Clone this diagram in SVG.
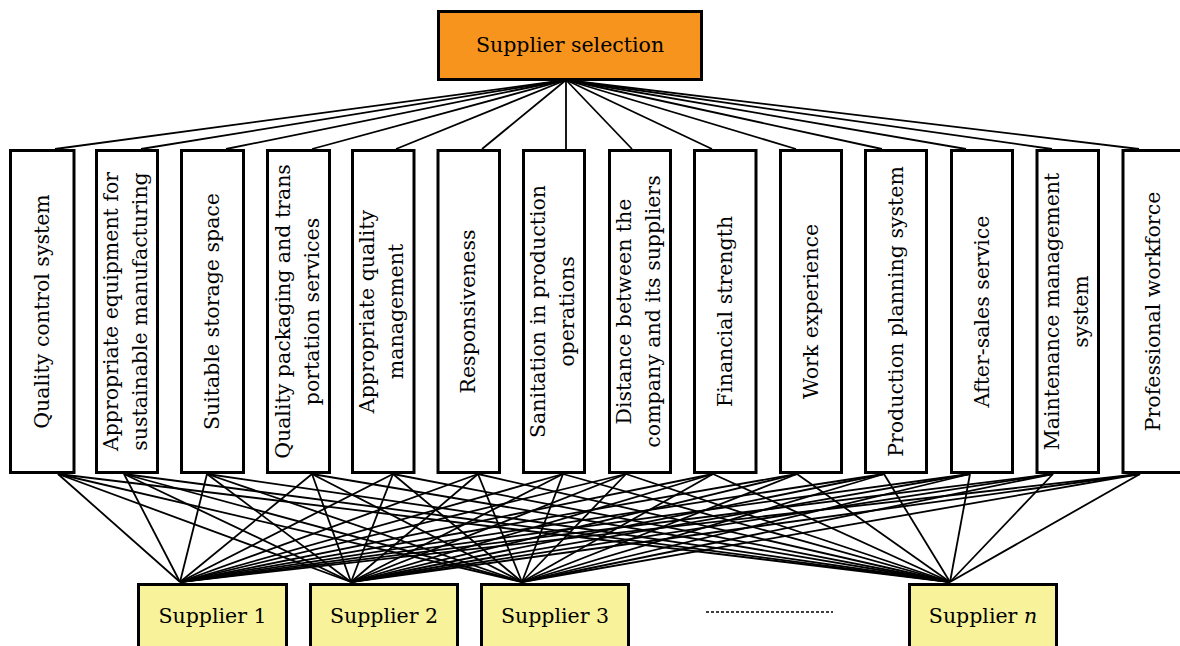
<svg xmlns="http://www.w3.org/2000/svg" width="1180" height="646" viewBox="0 0 1180 646">
<style>
.box{fill:#ffffff;stroke:#000;stroke-width:3}
.goal{fill:#F7941E;stroke:#000;stroke-width:3}
.alt{fill:#F8F29A;stroke:#000;stroke-width:3}
.t{font-family:"DejaVu Serif","Liberation Serif",serif;font-size:20.5px;fill:#000;text-anchor:middle}
.c line{stroke:#000;stroke-width:1.8}
.dots{stroke:#000;stroke-width:1.6;stroke-dasharray:3 2}
</style>
<rect width="1180" height="646" fill="#fff"/>
<g class="c" id="connectors">
<line x1="566" y1="80" x2="55" y2="149"/>
<line x1="566" y1="80" x2="141" y2="149"/>
<line x1="566" y1="80" x2="226" y2="149"/>
<line x1="566" y1="80" x2="312" y2="149"/>
<line x1="566" y1="80" x2="396" y2="149"/>
<line x1="566" y1="80" x2="482" y2="149"/>
<line x1="566" y1="80" x2="566" y2="149"/>
<line x1="566" y1="80" x2="632" y2="149"/>
<line x1="566" y1="80" x2="712" y2="149"/>
<line x1="566" y1="80" x2="796" y2="149"/>
<line x1="566" y1="80" x2="882" y2="149"/>
<line x1="566" y1="80" x2="966" y2="149"/>
<line x1="566" y1="80" x2="1052" y2="149"/>
<line x1="566" y1="80" x2="1139" y2="149"/>
<g id="toS1">
<line x1="58" y1="474" x2="180" y2="582"/><line x1="124" y1="474" x2="180" y2="582"/><line x1="207" y1="474" x2="180" y2="582"/><line x1="312" y1="474" x2="180" y2="582"/><line x1="393" y1="474" x2="180" y2="582"/><line x1="478" y1="474" x2="180" y2="582"/><line x1="563" y1="474" x2="180" y2="582"/><line x1="626" y1="474" x2="180" y2="582"/><line x1="713" y1="474" x2="180" y2="582"/><line x1="797" y1="474" x2="180" y2="582"/><line x1="884" y1="474" x2="180" y2="582"/><line x1="970" y1="474" x2="180" y2="582"/><line x1="1053" y1="474" x2="180" y2="582"/><line x1="1140" y1="474" x2="180" y2="582"/>
</g>
<g id="toS2">
<line x1="58" y1="474" x2="351" y2="582"/><line x1="124" y1="474" x2="351" y2="582"/><line x1="207" y1="474" x2="351" y2="582"/><line x1="312" y1="474" x2="351" y2="582"/><line x1="393" y1="474" x2="351" y2="582"/><line x1="478" y1="474" x2="351" y2="582"/><line x1="563" y1="474" x2="351" y2="582"/><line x1="626" y1="474" x2="351" y2="582"/><line x1="713" y1="474" x2="351" y2="582"/><line x1="797" y1="474" x2="351" y2="582"/><line x1="884" y1="474" x2="351" y2="582"/><line x1="970" y1="474" x2="351" y2="582"/><line x1="1053" y1="474" x2="351" y2="582"/><line x1="1140" y1="474" x2="351" y2="582"/>
</g>
<g id="toS3">
<line x1="58" y1="474" x2="522" y2="582"/><line x1="124" y1="474" x2="522" y2="582"/><line x1="207" y1="474" x2="522" y2="582"/><line x1="312" y1="474" x2="522" y2="582"/><line x1="393" y1="474" x2="522" y2="582"/><line x1="478" y1="474" x2="522" y2="582"/><line x1="563" y1="474" x2="522" y2="582"/><line x1="626" y1="474" x2="522" y2="582"/><line x1="713" y1="474" x2="522" y2="582"/><line x1="797" y1="474" x2="522" y2="582"/><line x1="884" y1="474" x2="522" y2="582"/><line x1="970" y1="474" x2="522" y2="582"/><line x1="1053" y1="474" x2="522" y2="582"/><line x1="1140" y1="474" x2="522" y2="582"/>
</g>
<g id="toSn">
<line x1="58" y1="474" x2="950" y2="582"/><line x1="124" y1="474" x2="950" y2="582"/><line x1="207" y1="474" x2="950" y2="582"/><line x1="312" y1="474" x2="950" y2="582"/><line x1="393" y1="474" x2="950" y2="582"/><line x1="478" y1="474" x2="950" y2="582"/><line x1="563" y1="474" x2="950" y2="582"/><line x1="626" y1="474" x2="950" y2="582"/><line x1="713" y1="474" x2="950" y2="582"/><line x1="797" y1="474" x2="950" y2="582"/><line x1="884" y1="474" x2="950" y2="582"/><line x1="970" y1="474" x2="950" y2="582"/><line x1="1053" y1="474" x2="950" y2="582"/><line x1="1140" y1="474" x2="950" y2="582"/>
</g>
</g>
<g id="goal">
<rect class="goal" x="438.5" y="11.5" width="263" height="68"/>
<text class="t" x="570" y="52">Supplier selection</text>
</g>
<g id="c1"><rect class="box" x="10.5" y="150.5" width="63.5" height="322"/>
<text class="t" transform="translate(42.5,311.5) rotate(-90)" y="6.5">Quality control system</text></g>
<g id="c2"><rect class="box" x="96.5" y="150.5" width="61" height="322"/>
<text class="t" transform="translate(127,311.5) rotate(-90)"><tspan x="0" y="-9">Appropriate equipment for</tspan><tspan x="0" y="20">sustainable manufacturing</tspan></text></g>
<g id="c3"><rect class="box" x="181.5" y="150.5" width="62" height="322"/>
<text class="t" transform="translate(212.5,311.5) rotate(-90)" y="6.5">Suitable storage space</text></g>
<g id="c4"><rect class="box" x="267.5" y="150.5" width="62" height="322"/>
<text class="t" transform="translate(298.5,311.5) rotate(-90)"><tspan x="0" y="-9">Quality packaging and trans</tspan><tspan x="0" y="20">portation services</tspan></text></g>
<g id="c5"><rect class="box" x="352.5" y="150.5" width="61.5" height="322"/>
<text class="t" transform="translate(383.2,311.5) rotate(-90)"><tspan x="0" y="-9">Appropriate quality</tspan><tspan x="0" y="20">management</tspan></text></g>
<g id="c6"><rect class="box" x="438" y="150.5" width="61.5" height="322"/>
<text class="t" transform="translate(468.8,311.5) rotate(-90)" y="6.5">Responsiveness</text></g>
<g id="c7"><rect class="box" x="523.5" y="150.5" width="61" height="322"/>
<text class="t" transform="translate(554,311.5) rotate(-90)"><tspan x="0" y="-9">Sanitation in production</tspan><tspan x="0" y="20">operations</tspan></text></g>
<g id="c8"><rect class="box" x="609.5" y="150.5" width="61" height="322"/>
<text class="t" transform="translate(640,311.5) rotate(-90)"><tspan x="0" y="-9">Distance between the</tspan><tspan x="0" y="20">company and its suppliers</tspan></text></g>
<g id="c9"><rect class="box" x="694.5" y="150.5" width="61.5" height="322"/>
<text class="t" transform="translate(725.2,311.5) rotate(-90)" y="6.5">Financial strength</text></g>
<g id="c10"><rect class="box" x="780.5" y="150.5" width="61" height="322"/>
<text class="t" transform="translate(811,311.5) rotate(-90)" y="6.5">Work experience</text></g>
<g id="c11"><rect class="box" x="865.5" y="150.5" width="61" height="322"/>
<text class="t" transform="translate(896,311.5) rotate(-90)" y="6.5">Production planning system</text></g>
<g id="c12"><rect class="box" x="951.5" y="150.5" width="61" height="322"/>
<text class="t" transform="translate(982,311.5) rotate(-90)" y="6.5">After-sales service</text></g>
<g id="c13"><rect class="box" x="1037" y="150.5" width="61.5" height="322"/>
<text class="t" transform="translate(1067.8,311.5) rotate(-90)"><tspan x="0" y="-9">Maintenance management</tspan><tspan x="0" y="20">system</tspan></text></g>
<g id="c14"><rect class="box" x="1123" y="150.5" width="61" height="322"/>
<text class="t" transform="translate(1153.5,311.5) rotate(-90)" y="6.5">Professional workforce</text></g>
<g id="s1"><rect class="alt" x="138.5" y="584.5" width="148" height="80"/>
<text class="t" x="212.5" y="623">Supplier 1</text></g>
<g id="s2"><rect class="alt" x="310.5" y="584.5" width="147" height="80"/>
<text class="t" x="384" y="623">Supplier 2</text></g>
<g id="s3"><rect class="alt" x="481.5" y="584.5" width="147" height="80"/>
<text class="t" x="555" y="623">Supplier 3</text></g>
<line class="dots" x1="706" y1="612" x2="833" y2="612"/>
<g id="sn"><rect class="alt" x="909.5" y="584.5" width="147" height="80"/>
<text class="t" x="983" y="623">Supplier <tspan font-style="italic">n</tspan></text></g>
</svg>
